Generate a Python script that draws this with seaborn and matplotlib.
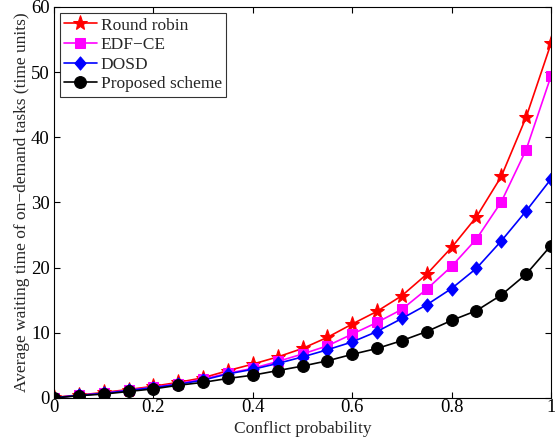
import numpy as np
import pandas as pd
import matplotlib
matplotlib.use("Agg")
import matplotlib.pyplot as plt
from matplotlib.path import Path
import seaborn as sns

conflict_prob = [0.00, 0.05, 0.10, 0.15, 0.20, 0.25, 0.30, 0.35, 0.40, 0.45, 0.50,
                 0.55, 0.60, 0.65, 0.70, 0.75, 0.80, 0.85, 0.90, 0.95, 1.00]
round_robin = [0.1, 0.45, 0.85, 1.3, 1.8, 2.4, 3.1, 4.2, 5.2, 6.3, 7.6,
               9.3, 11.35, 13.3, 15.7, 19.0, 23.1, 27.8, 34.0, 43.1, 54.4]
edf_ce = [0.05, 0.4, 0.75, 1.2, 1.65, 2.2, 2.9, 3.8, 4.55, 5.6, 6.75,
          8.0, 9.8, 11.6, 13.6, 16.7, 20.2, 24.4, 30.1, 38.1, 49.4]
dosd = [0.05, 0.4, 0.7, 1.15, 1.6, 2.1, 2.75, 3.7, 4.4, 5.3, 6.3,
        7.4, 8.6, 10.2, 12.2, 14.3, 16.8, 19.9, 24.1, 28.7, 33.6]
proposed = [0.0, 0.35, 0.6, 1.0, 1.4, 1.95, 2.4, 3.0, 3.5, 4.2, 4.9,
            5.7, 6.7, 7.6, 8.8, 10.2, 11.9, 13.4, 15.8, 19.0, 23.4]

schemes = ["Round robin", "EDF\u2212CE", "DOSD", "Proposed scheme"]
colors = ["#ff0000", "#ff00ff", "#0000ff", "#000000"]

# slightly tall diamond, like the classic MATLAB 'd' marker
diamond = Path([(0, 1), (0.85, 0), (0, -1), (-0.85, 0), (0, 1)],
               [Path.MOVETO, Path.LINETO, Path.LINETO, Path.LINETO, Path.CLOSEPOLY])
markers = ["*", "s", diamond, "o"]
msizes = [11, 7, 9.5, 8.5]

df = pd.DataFrame({
    "p": conflict_prob * 4,
    "wait": round_robin + edf_ce + dosd + proposed,
    "scheme": np.repeat(schemes, len(conflict_prob)),
})

sns.set_theme(style="ticks")
plt.rcParams["font.family"] = ["Liberation Serif", "DejaVu Serif"]

fig = plt.figure(figsize=(5.55, 4.43), dpi=100)
ax = fig.add_axes([0.0973, 0.1016, 0.8955, 0.8826])

for name, c, m, ms in zip(schemes, colors, markers, msizes):
    sub = df[df["scheme"] == name]
    sns.lineplot(data=sub, x="p", y="wait", ax=ax, color=c, marker=m,
                 markersize=ms, markeredgecolor=c, markerfacecolor=c,
                 linewidth=1.2, label=name)

ax.set_xlim(0, 1)
ax.set_ylim(0, 60)
ax.set_xticks([0, 0.2, 0.4, 0.6, 0.8, 1.0])
ax.set_xticklabels(["0", "0.2", "0.4", "0.6", "0.8", "1"])
ax.set_yticks(range(0, 61, 10))
ax.tick_params(direction="in", top=True, right=True, labelsize=13.5,
               length=4, width=0.8, colors="black")
ax.tick_params(axis="x", pad=1)
ax.tick_params(axis="y", pad=3)
for s in ax.spines.values():
    s.set_color("black")
    s.set_linewidth(0.8)
ax.set_xlabel("Conflict probability", fontsize=12.5, labelpad=3)
ax.set_ylabel("Average waiting time of on\u2212demand tasks (time units)",
              fontsize=12.5, labelpad=1)

leg = ax.legend(loc="upper left", fontsize=12.5, frameon=True, fancybox=False,
                edgecolor="black", handlelength=1.85, handletextpad=0.25,
                borderpad=0.25, labelspacing=0.2, borderaxespad=0.35)
leg.get_frame().set_linewidth(0.8)

fig.savefig("out.png", dpi=100)
